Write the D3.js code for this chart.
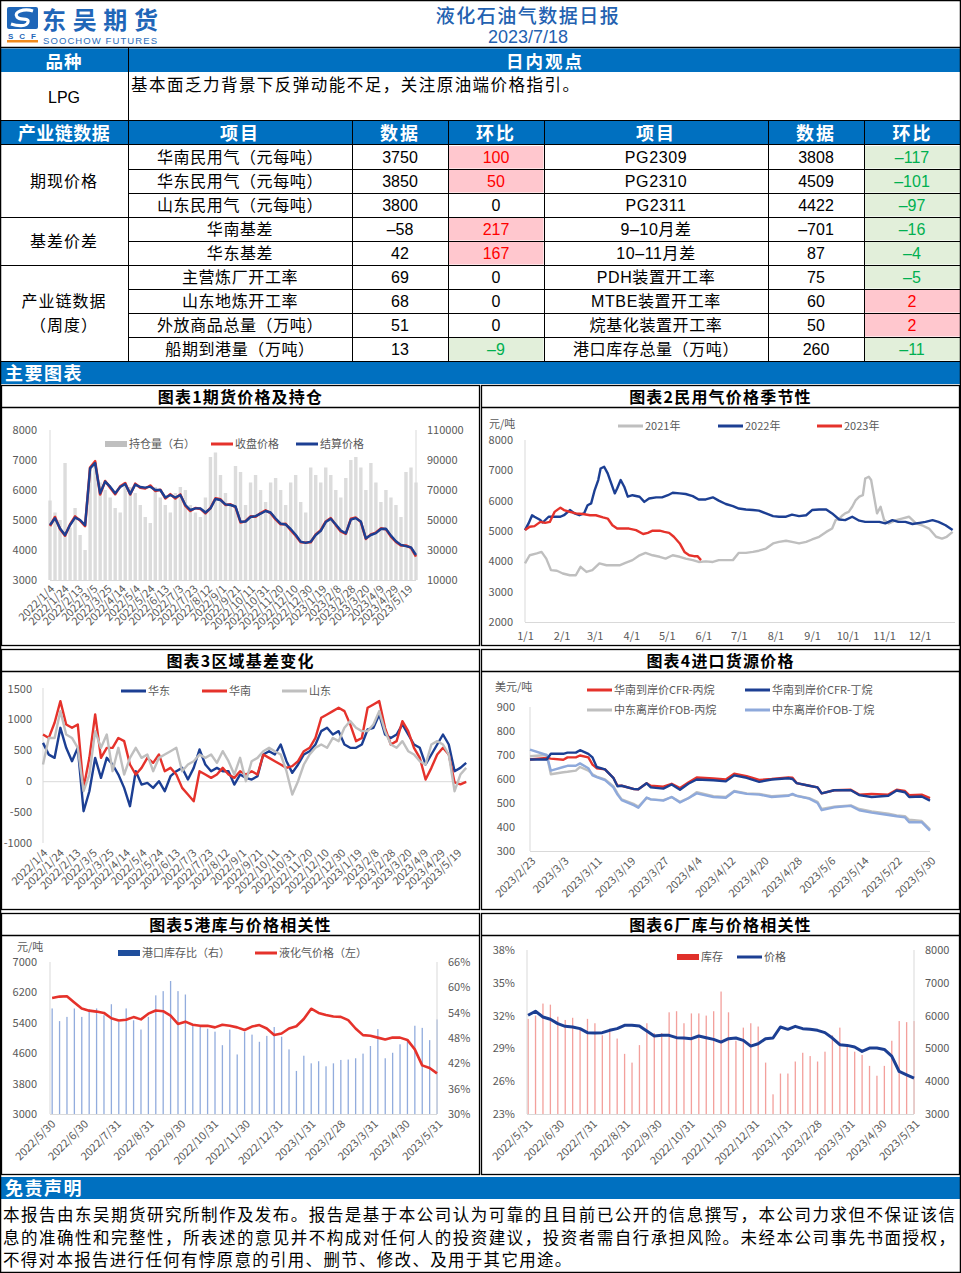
<!DOCTYPE html>
<html><head><meta charset="utf-8">
<script src="https://cdn.jsdelivr.net/npm/d3@7"></script>
<style>
body{margin:0;background:#fff;}
svg{display:block;}
</style></head><body>
<svg id="root" width="961" height="1273"></svg>
<script>
// ================= DATA =================
const reportTitle = "液化石油气数据日报";
const reportDate = "2023/7/18";
const viewText = "基本面乏力背景下反弹动能不足，关注原油端价格指引。";
const disclaimerLines = [
  "本报告由东吴期货研究所制作及发布。报告是基于本公司认为可靠的且目前已公开的信息撰写，本公司力求但不保证该信",
  "息的准确性和完整性，所表述的意见并不构成对任何人的投资建议，投资者需自行承担风险。未经本公司事先书面授权，",
  "不得对本报告进行任何有悖原意的引用、删节、修改、及用于其它用途。"
];
const tableHeaders = ["产业链数据","项目","数据","环比","项目","数据","环比"];
const groupNames = [["期现价格"],["基差价差"],["产业链数据","（周度）"]];
const groupSizes = [3,2,4];
const leftItems = ["华南民用气（元每吨）","华东民用气（元每吨）","山东民用气（元每吨）","华南基差","华东基差","主营炼厂开工率","山东地炼开工率","外放商品总量（万吨）","船期到港量（万吨）"];
const leftValues = [3750,3850,3800,-58,42,69,68,51,13];
const leftChanges = [100,50,0,217,167,0,0,0,-9];
const rightItems = ["PG2309","PG2310","PG2311","9–10月差","10–11月差","PDH装置开工率","MTBE装置开工率","烷基化装置开工率","港口库存总量（万吨）"];
const rightValues = [3808,4509,4422,-701,87,75,60,50,260];
const rightChanges = [-117,-101,-97,-16,-4,-5,2,2,-11];

// weekly dates (Tuesdays) for charts 1 & 3
const weeks2022 = ("2022-01-04 2022-01-11 2022-01-18 2022-01-25 2022-02-01 2022-02-08 2022-02-15 2022-02-22 2022-03-01 2022-03-08 2022-03-15 2022-03-22 2022-03-29 2022-04-05 2022-04-12 2022-04-19 2022-04-26 2022-05-03 2022-05-10 2022-05-17 2022-05-24 2022-05-31 2022-06-07 2022-06-14 2022-06-21 2022-06-28 2022-07-05 2022-07-12 2022-07-19 2022-07-26 2022-08-02 2022-08-09 2022-08-16 2022-08-23 2022-08-30 2022-09-06 2022-09-13 2022-09-20 2022-09-27 2022-10-04 2022-10-11 2022-10-18 2022-10-25 2022-11-01 2022-11-08 2022-11-15 2022-11-22 2022-11-29 2022-12-06 2022-12-13 2022-12-20 2022-12-27 " +
  "2023-01-03 2023-01-10 2023-01-17 2023-01-24 2023-01-31 2023-02-07 2023-02-14 2023-02-21 2023-02-28 2023-03-07 2023-03-14 2023-03-21 2023-03-28 2023-04-04 2023-04-11 2023-04-18 2023-04-25 2023-05-02 2023-05-09 2023-05-16 2023-05-23 2023-05-30").split(" ");
const longTickLabels = ["2022/1/4","2022/1/24","2022/2/13","2022/3/5","2022/3/25","2022/4/14","2022/5/4","2022/5/24","2022/6/13","2022/7/3","2022/7/23","2022/8/12","2022/9/1","2022/9/21","2022/10/11","2022/10/31","2022/11/20","2022/12/10","2022/12/30","2023/1/19","2023/2/8","2023/2/28","2023/3/20","2023/4/9","2023/4/29","2023/5/19"];

// Chart 1: futures price & open interest
const c1OpenInterest = [63000,55000,50000,88000,45000,58000,40000,30000,85000,88000,75000,70000,65000,58000,55000,75000,72000,68000,60000,52000,48000,72000,65000,60000,55000,68000,72000,70000,60000,55000,52000,65000,92000,95000,80000,68000,60000,86000,82000,60000,75000,80000,70000,62000,75000,78000,70000,60000,75000,80000,62000,55000,85000,80000,75000,85000,80000,70000,65000,78000,90000,92000,85000,70000,88000,75000,62000,70000,65000,60000,52000,82000,85000,75000];
const c1Close = [4800,5100,4700,4480,4850,5120,4980,4800,6750,6960,5850,6300,6080,5860,6120,6230,5850,6210,6080,6050,6150,5970,6010,5720,5860,5720,5850,5470,5300,5400,5370,5220,5400,5720,5690,5500,5520,5430,4920,4960,5120,5110,5230,5320,5230,5020,4860,4870,4660,4480,4260,4250,4260,4520,4660,4950,5060,4830,4620,4540,5040,5080,4930,4370,4520,4580,4720,4690,4450,4270,4150,4150,4070,3780];
const c1Settle = [4833,5056,4720,4500,4833,5080,5000,4830,6722,6900,5889,6280,6111,5890,6100,6200,5870,6180,6100,6080,6111,6000,6000,5750,5833,5750,5833,5500,5333,5389,5389,5250,5389,5700,5667,5520,5500,5450,4944,4950,5100,5130,5210,5300,5250,5050,4880,4850,4700,4510,4280,4240,4278,4500,4640,4930,5040,4850,4650,4556,5010,5060,4950,4389,4500,4560,4700,4710,4480,4290,4170,4130,4090,3833];
const c1LeftTicks = [3000,4000,5000,6000,7000,8000];
const c1RightTicks = [10000,30000,50000,70000,90000,110000];

// Chart 2: seasonal civil LPG price
const c2Dates2021 = ["1/1","1/5","1/11","1/15","1/19","1/23","1/28","2/2","2/8","2/13","2/17","2/22","2/27","3/5","3/11","3/16","3/22","3/27","4/2","4/8","4/13","4/19","4/25","4/30","5/6","5/12","5/17","5/23","5/28","6/3","6/9","6/14","6/20","6/26","7/1","7/7","7/13","7/18","7/24","7/30","8/4","8/10","8/15","8/21","8/27","9/1","9/7","9/13","9/18","9/21","9/24","9/27","9/29","10/2","10/5","10/8","10/11","10/14","10/16","10/19","10/21","10/23","10/26","10/29","11/1","11/5","11/11","11/16","11/22","11/28","12/3","12/9","12/15","12/20","12/24","12/29"];
const c2Vals2021 = [3930,4200,4260,4310,4090,3710,3690,3600,3540,3540,3820,3650,3710,3930,3870,3870,3870,3950,4040,4200,4280,4200,4150,4090,4200,4150,4090,4040,3980,4000,3980,4040,4040,4040,4280,4280,4310,4350,4420,4590,4640,4680,4640,4590,4640,4720,4810,4970,5080,5360,5410,5520,5580,5630,5800,6020,6130,6180,6730,6790,6680,6240,5580,5800,5360,5250,5360,5410,5470,5250,5190,5080,4810,4750,4810,4970];
const c2Dates2022 = ["1/1","1/4","1/7","1/9","1/14","1/16","1/21","1/25","1/31","2/3","2/8","2/12","2/16","2/20","2/23","2/26","3/1","3/4","3/6","3/9","3/12","3/15","3/18","3/20","3/23","3/26","3/29","4/2","4/8","4/12","4/16","4/22","4/27","5/2","5/6","5/12","5/17","5/23","5/28","6/3","6/9","6/14","6/20","6/26","7/1","7/7","7/13","7/18","7/24","7/30","8/4","8/10","8/15","8/21","8/27","9/1","9/7","9/13","9/18","9/24","9/29","10/5","10/11","10/16","10/22","10/28","11/2","11/8","11/13","11/19","11/25","12/1","12/6","12/12","12/17","12/23","12/29"];
const c2Vals2022 = [5030,5250,5520,5470,5360,5280,5470,5470,5470,5520,5690,5580,5520,5580,5850,5910,6350,6680,7060,7120,6900,6570,6240,6400,6680,6460,6130,6180,6130,5960,6070,6110,6110,6180,6260,6240,6220,6150,6040,6040,6110,6000,5890,5820,5740,5710,5690,5670,5580,5490,5470,5470,5540,5490,5520,5690,5710,5710,5580,5380,5360,5470,5340,5300,5300,5300,5250,5360,5300,5300,5230,5270,5300,5360,5300,5190,5030];
const c2Dates2023 = ["1/1","1/5","1/9","1/14","1/18","1/22","1/26","1/31","2/3","2/8","2/13","2/19","2/25","3/2","3/8","3/12","3/16","3/20","3/25","3/30","4/5","4/11","4/15","4/19","4/25","4/29","5/3","5/7","5/12","5/16","5/20","5/24","5/27","5/30"];
const c2Vals2023 = [5030,5140,5160,5300,5270,5300,5630,5770,5690,5630,5580,5560,5520,5520,5450,5410,5190,5080,5080,5080,5030,4900,4940,5010,5010,4970,4940,4810,4590,4310,4200,4170,4170,4040];
const c2TickLabels = ["1/1","2/1","3/1","4/1","5/1","6/1","7/1","8/1","9/1","10/1","11/1","12/1"];
const c2YTicks = [2000,3000,4000,5000,6000,7000,8000];

// Chart 3: regional basis
const c3EastChina = [620,430,378,864,540,324,540,-486,-162,378,54,378,270,108,-108,-405,162,-54,-27,-108,0,-162,81,162,216,27,216,513,270,162,216,162,162,-54,108,54,27,81,432,486,432,594,324,135,270,432,486,594,810,864,756,810,594,540,540,594,837,864,1080,756,700,756,918,756,594,540,270,432,594,756,594,162,216,297];
const c3SouthChina = [756,700,945,1296,918,864,918,-108,378,1080,378,540,540,700,648,270,108,216,378,297,432,162,216,108,-108,-216,-324,162,108,54,108,216,108,54,162,108,162,108,432,378,324,270,216,243,324,486,540,700,1026,1080,1134,1188,1134,918,648,700,1188,1242,1296,864,594,648,972,810,540,378,27,216,432,540,432,-20,-50,-10];
const c3Shandong = [270,700,700,1134,756,700,540,-162,108,810,540,756,162,540,108,378,540,378,432,162,378,432,486,540,162,270,324,432,378,432,297,486,324,108,378,0,324,378,486,540,486,432,162,-216,0,270,432,540,594,540,700,648,864,972,864,810,810,918,1134,810,594,540,648,486,432,324,270,594,648,594,432,-162,108,216];
const c3YTicks = [-1000,-500,0,500,1000,1500];

// Chart 4: import source prices (USD/t)
const c4Dates = ["2023/2/23","2023/2/27","2023/2/28","2023/3/3","2023/3/4","2023/3/6","2023/3/7","2023/3/9","2023/3/10","2023/3/11","2023/3/13","2023/3/15","2023/3/16","2023/3/17","2023/3/20","2023/3/21","2023/3/23","2023/3/24","2023/3/27","2023/3/29","2023/3/31","2023/4/2","2023/4/4","2023/4/8","2023/4/11","2023/4/13","2023/4/16","2023/4/19","2023/4/22","2023/4/26","2023/4/27","2023/4/28","2023/5/1","2023/5/3","2023/5/4","2023/5/7","2023/5/11","2023/5/13","2023/5/16","2023/5/20","2023/5/22","2023/5/24","2023/5/25","2023/5/28","2023/5/30"];
const c4CfrPropane = [681,688,685,680,690,690,698,690,660,645,640,605,572,572,558,557,582,572,568,580,562,585,606,602,598,622,612,596,600,607,605,583,572,565,540,553,555,535,538,535,555,550,533,535,520];
const c4CfrButane = [681,681,705,705,710,710,720,705,690,650,640,605,570,572,558,557,582,565,560,577,555,580,598,595,590,615,605,588,598,603,600,583,572,565,540,553,553,533,525,530,552,545,525,527,510];
const c4FobPropane = [695,700,620,628,630,635,650,635,620,610,598,570,540,515,495,485,520,515,512,525,505,520,545,528,525,550,540,538,528,533,535,530,520,505,475,485,490,475,465,455,448,445,430,425,390];
const c4FobButane = [722,700,635,650,655,655,665,645,615,608,595,565,535,512,490,480,523,515,510,525,502,520,540,525,522,548,538,535,525,530,538,530,518,500,470,482,488,470,460,450,445,440,420,420,385];
const c4TickLabels = ["2023/2/23","2023/3/3","2023/3/11","2023/3/19","2023/3/27","2023/4/4","2023/4/12","2023/4/20","2023/4/28","2023/5/6","2023/5/14","2023/5/22","2023/5/30"];
const c4YTicks = [300,400,500,600,700,800,900];

// Charts 5 & 6: weekly (Wednesdays)
const weeksInv = ("2022-06-01 2022-06-08 2022-06-15 2022-06-22 2022-06-29 2022-07-06 2022-07-13 2022-07-20 2022-07-27 2022-08-03 2022-08-10 2022-08-17 2022-08-24 2022-08-31 2022-09-07 2022-09-14 2022-09-21 2022-09-28 2022-10-05 2022-10-12 2022-10-19 2022-10-26 2022-11-02 2022-11-09 2022-11-16 2022-11-23 2022-11-30 2022-12-07 2022-12-14 2022-12-21 2022-12-28 " +
  "2023-01-04 2023-01-11 2023-01-18 2023-01-25 2023-02-01 2023-02-08 2023-02-15 2023-02-22 2023-03-01 2023-03-08 2023-03-15 2023-03-22 2023-03-29 2023-04-05 2023-04-12 2023-04-19 2023-04-26 2023-05-03 2023-05-10 2023-05-17 2023-05-24 2023-05-31").split(" ");
const c5PortRatio = [55.0,52.0,53.0,55.0,53.0,54.8,55.0,53.4,56.0,51.8,55.0,52.2,50.0,53.0,58.1,59.1,61.5,59.1,58.3,51.0,50.6,50.2,49.5,46.3,50.0,44.1,49.5,48.8,47.1,48.5,50.6,48.3,45.3,40.2,43.8,42.0,42.5,41.3,42.0,42.8,42.9,43.2,44.3,46.1,50.1,43.2,44.5,46.5,47.6,50.9,50.4,47.5,52.4];
const c5LpgPrice = [6050,6090,6100,5935,5775,5720,5695,5660,5520,5460,5480,5550,5490,5640,5725,5705,5590,5370,5430,5350,5320,5320,5280,5350,5320,5280,5210,5300,5340,5250,5080,5119,5250,5310,5500,5770,5660,5605,5565,5556,5469,5250,5075,5060,5010,4960,5015,5010,4950,4700,4280,4210,4068];
const c5LeftTicks = [3000,3800,4600,5400,6200,7000];
const c5RightTicks = [30,36,42,48,54,60,66];
const c6FactoryInv = [31.7,32.0,33.1,33.0,31.9,31.6,31.8,30.8,31.7,31.3,30.2,30.8,29.9,28.5,27.7,29.3,31.3,30.4,30.4,32.3,32.4,31.3,32.2,32.2,32.0,32.4,34.2,32.3,29.7,30.9,31.3,31.0,27.7,24.8,26.7,26.7,27.8,28.6,28.3,27.8,28.7,30.2,30.9,29.2,28.7,28.4,27.4,26.5,27.4,29.7,31.5,31.4,31.5];
const c6Price = [6010,6133,5959,5888,5755,5673,5653,5602,5480,5469,5480,5551,5602,5704,5704,5684,5531,5378,5398,5398,5327,5316,5296,5378,5327,5276,5194,5296,5316,5245,5071,5143,5296,5316,5653,5582,5673,5602,5582,5551,5480,5316,5112,5092,5041,4908,5010,5010,4969,4765,4296,4194,4092];
const c6LeftTicks = [23,26,29,32,35,38];
const c6RightTicks = [3000,4000,5000,6000,7000,8000];
const monthEndLabels5 = ["2022/5/30","2022/6/30","2022/7/31","2022/8/31","2022/9/30","2022/10/31","2022/11/30","2022/12/31","2023/1/31","2023/2/28","2023/3/31","2023/4/30","2023/5/31"];
const monthEndLabels6 = ["2022/5/31","2022/6/30","2022/7/31","2022/8/31","2022/9/30","2022/10/31","2022/11/30","2022/12/31","2023/1/31","2023/2/28","2023/3/31","2023/4/30","2023/5/31"];

// ================= DRAW =================
const svg = d3.select("#root");
const CN = "'Noto Sans CJK SC','Noto Sans',sans-serif";
const NUM = "'Liberation Sans',Arial,sans-serif";
const BAND = "#0070C0";
const AX = "#595959", AXL = "#D9D9D9";
const C_BLUE = "#1C3F93", C_RED = "#E5322B", C_GRAY = "#BFBFBF", C_LBLUE = "#8EA9DB";
const pISO = d3.timeParse("%Y-%m-%d"), pS = d3.timeParse("%Y/%m/%d"), pMD = d3.timeParse("%m/%d");
const fmt = v => v < 0 ? "–" + Math.abs(v) : String(v);
const plain = v => String(v);

svg.append("rect").attr("width",961).attr("height",1273).attr("fill","#fff");

function txt(x,y,s,o={}){
  const t = svg.append("text").attr("x",x).attr("y",y).text(s)
    .attr("font-family",o.font||CN).attr("font-size",o.size||16)
    .attr("fill",o.fill||"#000").attr("text-anchor",o.anchor||"middle")
    .attr("font-weight",o.weight||"normal");
  if(o.ls) t.attr("letter-spacing",o.ls);
  if(o.tl) t.attr("textLength",o.tl).attr("lengthAdjust","spacing");
  return t;
}
function hline(x1,x2,y,c="#000",w=1){svg.append("line").attr("x1",x1).attr("x2",x2).attr("y1",y).attr("y2",y).attr("stroke",c).attr("stroke-width",w);}
function vline(x,y1,y2,c="#000",w=1){svg.append("line").attr("x1",x).attr("x2",x).attr("y1",y1).attr("y2",y2).attr("stroke",c).attr("stroke-width",w);}
function band(y,h){svg.append("rect").attr("x",0).attr("y",y).attr("width",961).attr("height",h).attr("fill",BAND);}

// ---- Header / logo ----
svg.append("rect").attr("x",7).attr("y",7).attr("width",31).attr("height",22).attr("rx",2).attr("fill","#1F66B8");
svg.append("path").attr("d","M33,11 C24,8 13,12 17,17 C20,21 29,17 28,22 C27,27 17,26 11,24").attr("fill","none").attr("stroke","#fff").attr("stroke-width",3.2);
txt(22,38.5,"SCF",{size:8,weight:"bold",fill:"#1F66B8",font:NUM,tl:28});
svg.append("rect").attr("x",7).attr("y",40).attr("width",31).attr("height",2.5).attr("fill","#F08A1C");
txt(42,28.5,"东吴期货",{size:24,weight:"bold",fill:"#1F66B8",anchor:"start",tl:116});
txt(43,44,"SOOCHOW FUTURES",{size:9.5,fill:"#2A6EBB",anchor:"start",font:NUM,tl:114});
txt(528,22.5,reportTitle,{size:19,fill:"#2361B0",weight:"500",ls:1.5});
txt(528,43,reportDate,{size:18,fill:"#2361B0",font:NUM});
hline(0,961,47.5,"#000",1.5);

// ---- 品种 / 日内观点 ----
band(48.5,23.5);
txt(64,67.5,"品种",{size:17.5,weight:"bold",fill:"#fff",ls:1});
txt(545,67.5,"日内观点",{size:17.5,weight:"bold",fill:"#fff",ls:2});
txt(64,103,"LPG",{size:16,font:NUM});
txt(131,91,viewText,{size:16.5,anchor:"start",tl:448});
hline(0,961,120.5);

// ---- Table ----
const colX = [0,128,352,448,544,768,864,961];
band(121,24);
tableHeaders.forEach((h,i)=>{
  txt((colX[i]+colX[i+1])/2,140,h,{size:18,weight:"bold",fill:"#fff",ls:i===0?0.5:2});
});
const rowTop = 145, rowH = 24;
leftItems.forEach((it,i)=>{
  const y0 = rowTop + i*rowH, yc = y0 + 17.5;
  [[leftChanges[i],colX[3],colX[4]],[rightChanges[i],colX[6],colX[7]]].forEach(([c,a,b])=>{
    if(c!==0) svg.append("rect").attr("x",a+1).attr("y",y0+1).attr("width",b-a-1.5).attr("height",rowH-1.5)
      .attr("fill",c>0?"#FFC7CE":"#E2EFDA");
  });
  txt(240,yc,it,{size:16,ls:0.6});
  txt(400,yc,fmt(leftValues[i]),{size:16,font:NUM});
  txt(496,yc,fmt(leftChanges[i]),{size:16,font:NUM,fill:leftChanges[i]>0?"#FF0000":leftChanges[i]<0?"#00B050":"#000"});
  txt(656,yc,rightItems[i],{size:16,ls:0.6,font:/^[A-Z0-9–]/.test(rightItems[i])?"'Liberation Sans','Noto Sans CJK SC',sans-serif":CN});
  txt(816,yc,fmt(rightValues[i]),{size:16,font:NUM});
  txt(912,yc,fmt(rightChanges[i]),{size:16,font:NUM,fill:rightChanges[i]>0?"#FF0000":rightChanges[i]<0?"#00B050":"#000"});
  hline(128,961,y0+rowH+0.5);
});
let gStart = 0;
groupSizes.forEach((n,gi)=>{
  const y0 = rowTop + gStart*rowH, h = n*rowH;
  const names = groupNames[gi];
  if(names.length===1) txt(64,y0+h/2+6,names[0],{size:16,ls:1});
  else { txt(64,y0+h/2-6,names[0],{size:16,ls:1}); txt(64,y0+h/2+18,names[1],{size:16,ls:1}); }
  gStart += n;
  hline(0,961,rowTop+gStart*rowH+0.5);
});
hline(0,961,144.5);
vline(128.5,48,361);
[352,448,544,768,864].forEach(x=>vline(x+0.5,121,361));

// ---- 主要图表 ----
band(362,22);
txt(5,380,"主要图表",{size:18,weight:"bold",fill:"#fff",anchor:"start",ls:1.5});

// ---- Panels ----
const panels = [
  {x:1,w:479,ty:385,cy:408,cb:646,title:"图表1期货价格及持仓"},
  {x:481,w:479,ty:385,cy:408,cb:646,title:"图表2民用气价格季节性"},
  {x:1,w:479,ty:649,cy:672,cb:910,title:"图表3区域基差变化"},
  {x:481,w:479,ty:649,cy:672,cb:910,title:"图表4进口货源价格"},
  {x:1,w:479,ty:913,cy:936,cb:1175,title:"图表5港库与价格相关性"},
  {x:481,w:479,ty:913,cy:936,cb:1175,title:"图表6厂库与价格相关性"}
];
panels.forEach(p=>{
  svg.append("rect").attr("x",p.x+0.5).attr("y",p.ty+0.5).attr("width",p.w-1).attr("height",p.cb-p.ty-1).attr("fill","none").attr("stroke","#000").attr("stroke-width",1.3);
  hline(p.x,p.x+p.w,p.cy-0.5,"#000",1.3);
  txt(p.x+p.w/2,p.ty+18,p.title,{size:16,weight:"bold",ls:1.2});
});

// ---- Disclaimer ----
band(1177,22);
txt(5,1195,"免责声明",{size:18,weight:"bold",fill:"#fff",anchor:"start",ls:1.5});
disclaimerLines.forEach((l,i)=>{
  txt(3,1221+i*22.5,l,{size:16.5,anchor:"start",tl:i<2?952:null,ls:i===2?1.3:null});
});
svg.append("rect").attr("x",0.5).attr("y",0.5).attr("width",960).attr("height",1272).attr("fill","none").attr("stroke","#000").attr("stroke-width",1.5);

// ---- chart helpers ----
function styleTicks(ax,size=11){
  ax.select(".domain").remove(); ax.selectAll("line").remove();
  ax.selectAll("text").attr("fill",AX).style("font-size",size+"px").style("font-family",CN);
  return ax;
}
function rotX(g,xs,y,dates,labels,dx=2,dy=7){
  const ax = g.append("g").attr("transform",`translate(0,${y})`)
    .call(d3.axisBottom(xs).tickValues(dates).tickFormat((d,i)=>labels[i]).tickSize(0));
  styleTicks(ax);
  ax.selectAll("text").attr("x",0).attr("y",0).attr("dy","0.35em").attr("text-anchor","end")
    .attr("transform",`translate(${dx},${dy}) rotate(-45)`);
}
function legendLine(g,x,y,c,label,w=25,sw=3){
  g.append("line").attr("x1",x).attr("x2",x+w).attr("y1",y).attr("y2",y).attr("stroke",c).attr("stroke-width",sw);
  g.append("text").attr("x",x+w+2).attr("y",y+4).text(label).attr("fill",AX).attr("font-size",11).attr("font-family",CN);
}
function legendRect(g,x,y,c,label,w=22){
  g.append("rect").attr("x",x).attr("y",y-3).attr("width",w).attr("height",6).attr("fill",c);
  g.append("text").attr("x",x+w+2).attr("y",y+4).text(label).attr("fill",AX).attr("font-size",11).attr("font-family",CN);
}
function axisLine(g,x1,y1,x2,y2){g.append("line").attr("x1",x1).attr("x2",x2).attr("y1",y1).attr("y2",y2).attr("stroke",AXL).attr("stroke-width",1);}
function path(g,xs,ys,dates,vals,c,w){
  g.append("path").datum(vals).attr("fill","none").attr("stroke",c).attr("stroke-width",w).attr("stroke-linejoin","round")
    .attr("d",d3.line().x((d,i)=>xs(dates[i])).y(d=>ys(d)));
}

// ---- Chart 1 ----
(function(){
  const g = svg.append("g");
  const d = weeks2022.map(pISO);
  const x = d3.scaleTime().domain([pS("2022/1/4"),pISO("2023-05-30")]).range([50,416]);
  const yL = d3.scaleLinear().domain([3000,8000]).range([580,430]);
  const yR = d3.scaleLinear().domain([10000,110000]).range([580,430]);
  g.selectAll(".oi").data(c1OpenInterest).join("rect")
    .attr("x",(v,i)=>x(d[i])-1.7).attr("width",3.4).attr("y",v=>yR(v)).attr("height",v=>yR(10000)-yR(v)).attr("fill","#DCDCDC");
  axisLine(g,50,430,50,580); axisLine(g,416,430,416,580); axisLine(g,50,580.5,416,580.5);
  styleTicks(g.append("g").attr("transform","translate(50,0)").call(d3.axisLeft(yL).tickValues(c1LeftTicks).tickFormat(plain).tickSize(0).tickPadding(13)));
  styleTicks(g.append("g").attr("transform","translate(416,0)").call(d3.axisRight(yR).tickValues(c1RightTicks).tickFormat(plain).tickSize(0).tickPadding(11)));
  rotX(g,x,580,longTickLabels.map(pS),longTickLabels);
  path(g,x,yL,d,c1Close,C_RED,2.6);
  path(g,x,yL,d,c1Settle,C_BLUE,2.4);
  legendRect(g,105,444,"#BFBFBF","持仓量（右）");
  legendLine(g,211,444,C_RED,"收盘价格",22);
  legendLine(g,296,444,C_BLUE,"结算价格",22);
})();

// ---- Chart 2 ----
(function(){
  const g = svg.append("g");
  const x = d3.scaleTime().domain([pMD("1/1"),pMD("12/31")]).range([525,955]);
  const y = d3.scaleLinear().domain([2000,8000]).range([622,440]);
  axisLine(g,525,440,525,622); axisLine(g,525,622.5,955,622.5);
  styleTicks(g.append("g").attr("transform","translate(525,0)").call(d3.axisLeft(y).tickValues(c2YTicks).tickFormat(plain).tickSize(0).tickPadding(12)));
  const ax = g.append("g").attr("transform","translate(0,622)").call(d3.axisBottom(x).tickValues(c2TickLabels.map(pMD)).tickFormat((d,i)=>c2TickLabels[i]).tickSize(0).tickPadding(10));
  styleTicks(ax);
  path(g,x,y,c2Dates2021.map(pMD),c2Vals2021,C_GRAY,2.4);
  path(g,x,y,c2Dates2022.map(pMD),c2Vals2022,C_BLUE,2.4);
  path(g,x,y,c2Dates2023.map(pMD),c2Vals2023,C_RED,2.4);
  g.append("text").attr("x",489).attr("y",428).text("元/吨").attr("fill",AX).attr("font-size",11).attr("font-family",CN);
  legendLine(g,618,426,C_GRAY,"2021年");
  legendLine(g,718,426,C_BLUE,"2022年");
  legendLine(g,817,426,C_RED,"2023年");
})();

// ---- Chart 3 ----
(function(){
  const g = svg.append("g");
  const d = weeks2022.map(pISO);
  const x = d3.scaleTime().domain([pS("2022/1/4"),pISO("2023-05-31")]).range([43,467]);
  const y = d3.scaleLinear().domain([-1000,1500]).range([843,688.5]);
  axisLine(g,43,688,43,843); axisLine(g,43,y(0)+0.5,467,y(0)+0.5);
  styleTicks(g.append("g").attr("transform","translate(43,0)").call(d3.axisLeft(y).tickValues(c3YTicks).tickFormat(plain).tickSize(0).tickPadding(11)));
  rotX(g,x,843,longTickLabels.map(pS),longTickLabels,2,8);
  path(g,x,y,d,c3EastChina,C_BLUE,2.4);
  path(g,x,y,d,c3SouthChina,C_RED,2.4);
  path(g,x,y,d,c3Shandong,C_GRAY,2.4);
  legendLine(g,121,691,C_BLUE,"华东");
  legendLine(g,202,691,C_RED,"华南");
  legendLine(g,282,691,C_GRAY,"山东");
})();

// ---- Chart 4 ----
(function(){
  const g = svg.append("g");
  const d = c4Dates.map(pS);
  const x = d3.scaleTime().domain([pS("2023/2/23"),pS("2023/5/30")]).range([530,930]);
  const y = d3.scaleLinear().domain([300,900]).range([851,707]);
  axisLine(g,530,707,530,851); axisLine(g,530,851.5,930,851.5);
  styleTicks(g.append("g").attr("transform","translate(530,0)").call(d3.axisLeft(y).tickValues(c4YTicks).tickFormat(plain).tickSize(0).tickPadding(15)));
  rotX(g,x,851,c4TickLabels.map(pS),c4TickLabels,3,8);
  path(g,x,y,d,c4FobPropane,C_GRAY,2.4);
  path(g,x,y,d,c4FobButane,C_LBLUE,2.4);
  path(g,x,y,d,c4CfrPropane,C_RED,2.4);
  path(g,x,y,d,c4CfrButane,C_BLUE,2.4);
  g.append("text").attr("x",495).attr("y",691).text("美元/吨").attr("fill",AX).attr("font-size",11).attr("font-family",CN);
  legendLine(g,587,690,C_RED,"华南到岸价CFR-丙烷");
  legendLine(g,745,690,C_BLUE,"华南到岸价CFR-丁烷");
  legendLine(g,587,710,C_GRAY,"中东离岸价FOB-丙烷");
  legendLine(g,745,710,C_LBLUE,"中东离岸价FOB-丁烷");
})();

// ---- Chart 5 ----
(function(){
  const g = svg.append("g");
  const d = weeksInv.map(pISO);
  const x = d3.scaleTime().domain([pS("2022/5/30"),pS("2023/5/31")]).range([50,437]);
  const yL = d3.scaleLinear().domain([3000,7000]).range([1114,962]);
  const yR = d3.scaleLinear().domain([30,66]).range([1114,962]);
  g.selectAll(".b5").data(c5PortRatio).join("rect")
    .attr("x",(v,i)=>x(d[i])-0.6).attr("width",1.3).attr("y",v=>yR(v)).attr("height",v=>yR(30)-yR(v)).attr("fill","#4A74C6").attr("opacity",0.6);
  axisLine(g,50,962,50,1114); axisLine(g,437,962,437,1114); axisLine(g,50,1114.5,437,1114.5);
  styleTicks(g.append("g").attr("transform","translate(50,0)").call(d3.axisLeft(yL).tickValues(c5LeftTicks).tickFormat(plain).tickSize(0).tickPadding(13)));
  styleTicks(g.append("g").attr("transform","translate(437,0)").call(d3.axisRight(yR).tickValues(c5RightTicks).tickFormat(v=>v+"%").tickSize(0).tickPadding(11)));
  rotX(g,x,1114,monthEndLabels5.map(pS),monthEndLabels5,3,8);
  path(g,x,yL,d,c5LpgPrice,C_RED,2.6);
  g.append("text").attr("x",17).attr("y",951).text("元/吨").attr("fill",AX).attr("font-size",11).attr("font-family",CN);
  legendRect(g,118,953,"#1F4E9C","港口库存比（右）");
  legendLine(g,255,953,C_RED,"液化气价格（左）",22);
})();

// ---- Chart 6 ----
(function(){
  const g = svg.append("g");
  const d = weeksInv.map(pISO);
  const x = d3.scaleTime().domain([pS("2022/5/31"),pS("2023/5/31")]).range([527,914]);
  const yL = d3.scaleLinear().domain([23,38]).range([1114,950]);
  const yR = d3.scaleLinear().domain([3000,8000]).range([1114,950]);
  g.selectAll(".b6").data(c6FactoryInv).join("rect")
    .attr("x",(v,i)=>x(d[i])-0.6).attr("width",1.3).attr("y",v=>yL(v)).attr("height",v=>yL(23)-yL(v)).attr("fill","#E8413A").attr("opacity",0.5);
  axisLine(g,527,950,527,1114); axisLine(g,914,950,914,1114); axisLine(g,527,1114.5,914,1114.5);
  styleTicks(g.append("g").attr("transform","translate(527,0)").call(d3.axisLeft(yL).tickValues(c6LeftTicks).tickFormat(v=>v+"%").tickSize(0).tickPadding(12)));
  styleTicks(g.append("g").attr("transform","translate(914,0)").call(d3.axisRight(yR).tickValues(c6RightTicks).tickFormat(plain).tickSize(0).tickPadding(11)));
  rotX(g,x,1114,monthEndLabels6.map(pS),monthEndLabels6,3,8);
  path(g,x,yR,d,c6Price,C_BLUE,3);
  legendRect(g,677,957,"#E0302A","库存");
  legendLine(g,737,957,C_BLUE,"价格");
})();
</script>
</body></html>
